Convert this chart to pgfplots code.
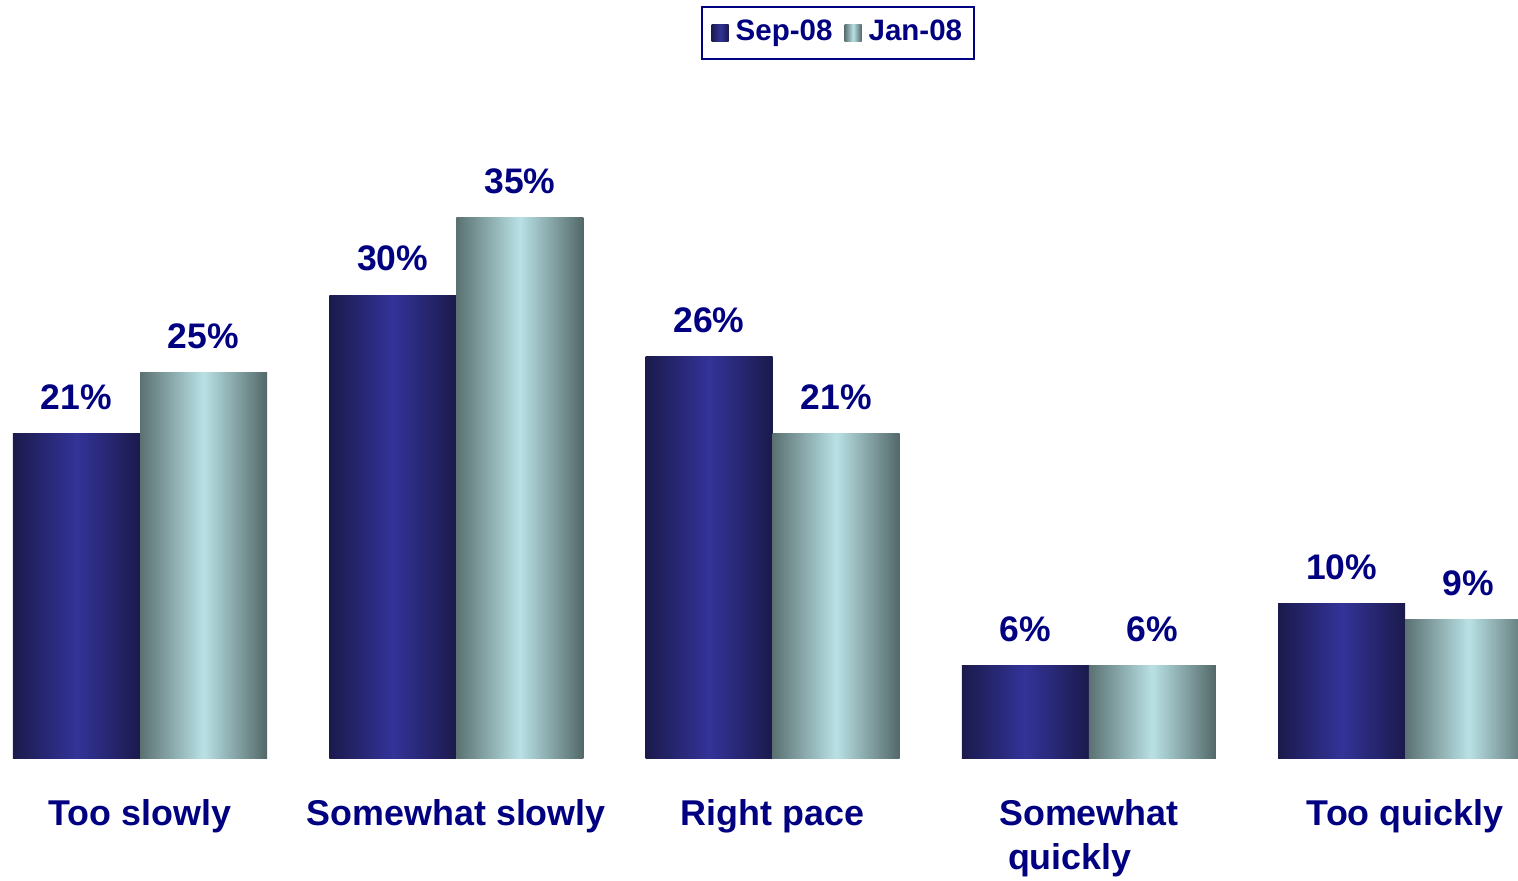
\documentclass[border=0pt]{standalone}
\usepackage{pgfplots}
\pgfplotsset{compat=1.18}
\usepackage{fontspec}
\setmainfont{Liberation Sans}
\definecolor{navytxt}{RGB}{0,0,128}
\definecolor{sepdark}{RGB}{27,26,76}
\definecolor{sepmid}{RGB}{51,51,153}
\definecolor{jandarkL}{RGB}{91,113,113}
\definecolor{janmid}{RGB}{185,225,229}
\definecolor{jandarkR}{RGB}{83,104,104}
\pgfplotsset{
    sepbar/.style={draw=none, bar shift=-0.2008, left color=sepdark, right color=sepdark, middle color=sepmid},
    janbar/.style={draw=none, bar shift=0.2008, left color=jandarkL, right color=jandarkR, middle color=janmid},
}
\begin{document}
\begin{tikzpicture}
\begin{axis}[
    scale only axis,
    width=15.18cm, height=7.58cm,
    xmin=-0.4427, xmax=4.357,
    ymin=0, ymax=49.12,
    ybar, bar width=0.4016,
    axis line style={draw=none},
    tick style={draw=none},
    ytick=\empty,
    xtick={0,1,2,3,4},
    xticklabels={Too slowly, Somewhat slowly, Right pace, Somewhat\\quickly\hspace*{0.38cm}, Too quickly},
    xticklabel style={font=\bfseries\fontsize{10.2}{12.6}\selectfont, text=navytxt,
        align=center, anchor=north, inner sep=0pt, yshift=-0.26cm},
    /pgf/number format/assume math mode=true,
    nodes near coords={\pgfmathprintnumber{\pgfplotspointmeta}\%},
    every node near coord/.append style={font=\bfseries\fontsize{10.1}{12}\selectfont,
        text=navytxt, anchor=south, inner sep=0pt, yshift=0.23cm},
    legend columns=2,
    legend image code/.code={\path (0cm,0cm);
        \path[#1, draw=none] (0.05cm,-0.085cm) rectangle (0.22cm,0.085cm);},
    legend style={at={(rel axis cs:0.552,0.9565)}, anchor=center,
        draw=navytxt, line width=0.6pt, fill=white,
        font=\bfseries\fontsize{8.4}{10}\selectfont, text=navytxt,
        inner xsep=0.05cm, inner ysep=0.06cm,
        /tikz/every even column/.append style={column sep=0cm}},
]
%% Sep-08 and Jan-08, one plot per bar so that each bar gets its own shading
\addplot[sepbar] coordinates {(0,21)};
\addplot[janbar] coordinates {(0,25)};
\addplot[sepbar, forget plot] coordinates {(1,30)};
\addplot[janbar, forget plot] coordinates {(1,35)};
\addplot[sepbar, forget plot] coordinates {(2,26)};
\addplot[janbar, forget plot] coordinates {(2,21)};
\addplot[sepbar, forget plot] coordinates {(3,6)};
\addplot[janbar, forget plot] coordinates {(3,6)};
\addplot[sepbar, forget plot] coordinates {(4,10)};
\addplot[janbar, forget plot] coordinates {(4,9)};
\legend{Sep-08, Jan-08}
\coordinate (bl) at (rel axis cs:0,0);
\coordinate (tr) at (rel axis cs:1,1);
\end{axis}
\pgfresetboundingbox
\path (bl) ++(0,-1.22cm) rectangle (tr);
\end{tikzpicture}
\end{document}
